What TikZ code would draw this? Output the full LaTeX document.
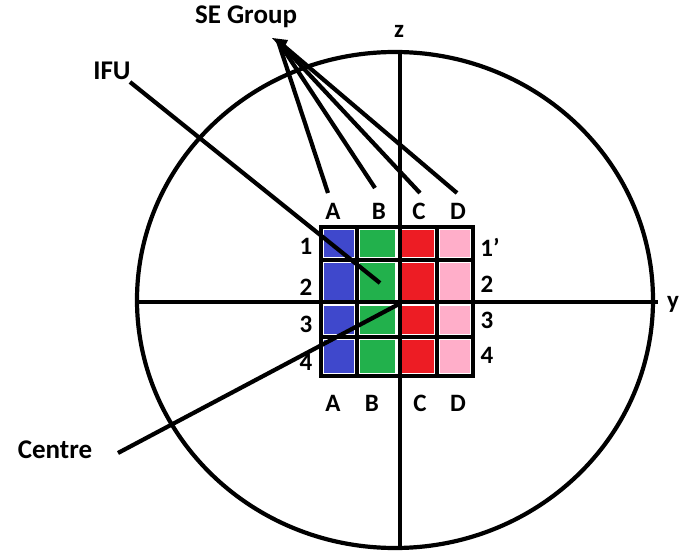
\documentclass[tikz,border=0pt]{standalone}
\usepackage{fontspec}
\setmainfont{Carlito}
\definecolor{cblue}{HTML}{3F48CC}
\definecolor{cgreen}{HTML}{22B14C}
\definecolor{cred}{HTML}{ED1C24}
\definecolor{cpink}{HTML}{FFAEC9}
\begin{document}
\begin{tikzpicture}[x=1pt,y=-1pt,
  thick line/.style={line width=4.2pt},
  lbl/.style={font=\bfseries\fontsize{25}{27}\selectfont, inner sep=0pt},
  big/.style={font=\bfseries\fontsize{27}{29}\selectfont, inner sep=0pt}]
\useasboundingbox (0,0) rectangle (681,554);
% cells
\foreach \xa/\xb/\c in {321/357/cblue,357/398/cgreen,398/437/cred,437/473/cpink}{
  \foreach \ya/\yb in {227/260,260/303,303/337,337/376}{
    \fill[\c] (\xa+3,\ya+3) rectangle (\xb-3,\yb-3);
  }
}
% ellipse and axes
\draw[thick line] (395,300) ellipse [x radius=258, y radius=248];
\coordinate (zt) at (400,52);
\coordinate (zb) at (400,548);
\coordinate (yl) at (137,302);
\coordinate (yr) at (658,302);
\draw[thick line] (zt) -- (zb);
\draw[thick line] (yl) -- (yr);
% grid
\draw[thick line] (321,227) rectangle (473,376);
\draw[thick line] (357,227) -- (357,376);
\draw[thick line] (437,227) -- (437,376);
\draw[thick line] (321,260) -- (473,260);
\draw[thick line] (321,337) -- (473,337);
% labels
\node[lbl] (z) at (399,31) {z};
\node[lbl] (y) at (673,304) {y};
\node[lbl] (tA) at (333,211) {A};
\node[lbl] (tB) at (379,211) {B};
\node[lbl] (tC) at (419,211) {C};
\node[lbl] (tD) at (458,211) {D};
\node[lbl] (bA) at (333,403) {A};
\node[lbl] (bB) at (372,403) {B};
\node[lbl] (bC) at (420,403) {C};
\node[lbl] (bD) at (458,403) {D};
\node[lbl] (l1) at (306,246) {1};
\node[lbl] (l2) at (306,287) {2};
\node[lbl] (l3) at (306,324) {3};
\node[lbl] (l4) at (306,362) {4};
\node[lbl] (r1) at (490,247) {1'};
\node[lbl] (r2) at (487,284) {2};
\node[lbl] (r3) at (487,320) {3};
\node[lbl] (r4) at (487,355) {4};
\node[big] (se) at (246,17) {SE Group};
\node[big] (ifu) at (112,71) {IFU};
\node[big] (centre) at (55,450) {Centre};
% pointers
\coordinate (apex) at (278,41);
\coordinate (pA) at (328,193);
\coordinate (pB) at (375,188);
\coordinate (pC) at (420,193);
\coordinate (pD) at (457,193);
\fill (272,38) -- (288,40) -- (283,50) -- cycle;
\foreach \p in {pA,pB,pC,pD} \draw[thick line] (apex) -- (\p);
\coordinate (ifuS) at (130,82);
\coordinate (ifuE) at (380,283);
\draw[thick line] (ifuS) -- (ifuE);
\coordinate (cenS) at (118,453);
\coordinate (cenE) at (399,304);
\draw[thick line] (cenS) -- (cenE);
\end{tikzpicture}
\end{document}
